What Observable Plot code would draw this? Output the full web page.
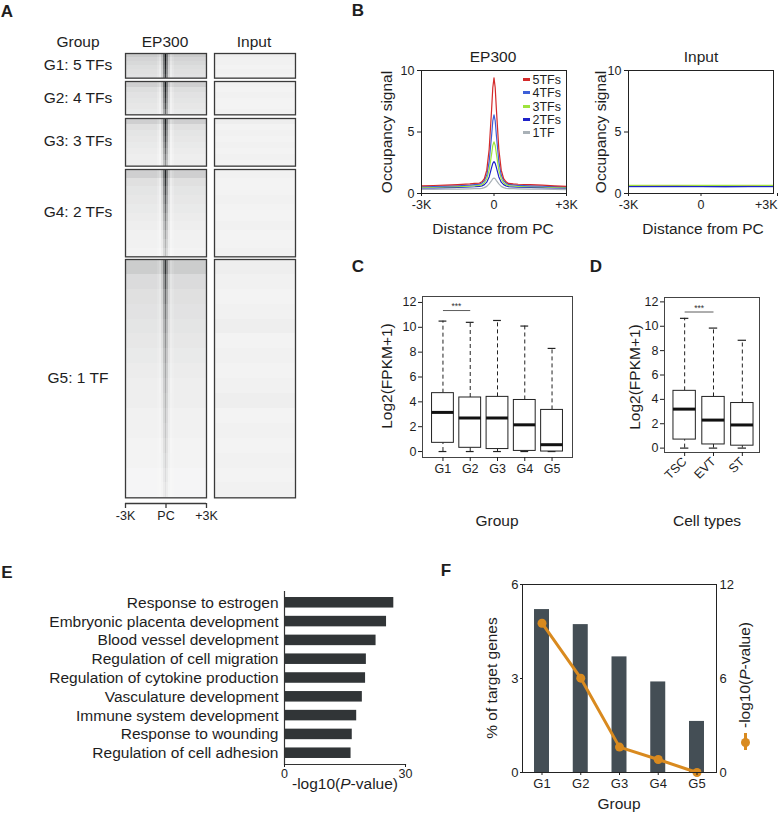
<!DOCTYPE html>
<html><head><meta charset="utf-8">
<script src="https://cdn.jsdelivr.net/npm/d3@7"></script>
<script src="https://cdn.jsdelivr.net/npm/@observablehq/plot@0.6"></script>
<style>
html,body{margin:0;padding:0;background:#fff;overflow:hidden}
#root{position:relative;width:781px;height:815px;font-family:"Liberation Sans",Arial,Helvetica,sans-serif;color:#1e1e1e}
#root svg{position:absolute;overflow:visible;max-width:none}
.t{position:absolute;white-space:nowrap;line-height:1;transform-origin:center center}
</style></head>
<body><div id="root"></div>
<script>
// ---------------- DATA ----------------
// Panel A: heatmap
const heatGroups = ["G1: 5 TFs", "G2: 4 TFs", "G3: 3 TFs", "G4: 2 TFs", "G5: 1 TF"];
const heatRegionCounts = [740, 1000, 1430, 2620, 7150];
const heatColShape = [0,0,0,0,0,0,0,0,0,0,0,0,0,0,0,0,-0.03,-0.07,0.08,0.5,1,0.45,0.05,-0.07,-0.03,0,0,0,0,0,0,0,0,0,0,0,0,0,0,0,0];
const ep300Stripe = [
  [1.0,0.98,0.95,0.92,0.88,0.82],
  [0.97,0.93,0.88,0.82,0.74,0.62],
  [0.95,0.9,0.84,0.78,0.7,0.62,0.54,0.46],
  [0.92,0.85,0.76,0.68,0.6,0.52,0.45,0.38,0.32,0.27],
  [0.85,0.72,0.62,0.55,0.5,0.45,0.4,0.36,0.33,0.3,0.27,0.24,0.21,0.18,0.15,0.12]
];
const ep300Bg = [
  [0.22,0.18,0.16,0.14,0.13,0.12],
  [0.2,0.14,0.12,0.11,0.1,0.09],
  [0.2,0.13,0.11,0.1,0.09,0.08,0.07,0.07],
  [0.2,0.13,0.11,0.1,0.09,0.08,0.07,0.06,0.06,0.05],
  [0.21,0.15,0.13,0.12,0.11,0.1,0.09,0.08,0.07,0.07,0.06,0.06,0.05,0.05,0.04,0.04]
];
const inputBg = [
  [0.07,0.06,0.06,0.05,0.06,0.05],
  [0.06,0.05,0.06,0.05,0.05,0.06],
  [0.07,0.05,0.06,0.05,0.06,0.05,0.06,0.05],
  [0.06,0.05,0.05,0.06,0.05,0.05,0.06,0.05,0.05,0.06],
  [0.07,0.06,0.05,0.06,0.07,0.05,0.06,0.05,0.06,0.07,0.05,0.06,0.05,0.06,0.05,0.06]
];
const heatTicks = [-3000, 0, 3000];
const heatTickLabels = ["-3K", "PC", "+3K"];

// Panel B: profiles
const profilePos = [-3000,-2500,-2000,-1500,-1000,-800,-600,-500,-400,-300,-200,-100,-50,0,50,100,200,300,400,500,600,800,1000,1500,2000,2500,3000];
const profileNames = ["5TFs", "4TFs", "3TFs", "2TFs", "1TF"];
const ep300_5TFs = [0.62,0.65,0.68,0.72,0.78,0.82,0.85,0.95,1.2,1.9,3.6,6.8,8.6,9.4,8.6,6.8,3.6,1.9,1.2,0.95,0.82,0.78,0.75,0.72,0.68,0.62,0.58];
const ep300_4TFs = [0.55,0.57,0.6,0.63,0.68,0.72,0.76,0.85,1.05,1.5,2.6,4.7,5.9,6.4,5.9,4.7,2.6,1.5,1.05,0.85,0.74,0.7,0.66,0.62,0.6,0.56,0.53];
const ep300_3TFs = [0.5,0.52,0.54,0.56,0.6,0.63,0.66,0.72,0.88,1.2,1.9,3.2,3.9,4.2,3.9,3.2,1.9,1.2,0.88,0.72,0.64,0.61,0.58,0.55,0.53,0.5,0.48];
const ep300_2TFs = [0.45,0.46,0.48,0.5,0.53,0.55,0.58,0.62,0.72,0.92,1.35,2.1,2.45,2.6,2.45,2.1,1.35,0.92,0.72,0.62,0.56,0.54,0.52,0.5,0.48,0.45,0.43];
const ep300_1TF  = [0.33,0.34,0.35,0.36,0.38,0.39,0.4,0.42,0.48,0.58,0.78,1.05,1.2,1.25,1.2,1.05,0.78,0.58,0.48,0.42,0.4,0.39,0.38,0.36,0.35,0.34,0.32];
const inputPos = [-3000,-2000,-1000,0,1000,2000,3000];
const input_5TFs = [0.6,0.6,0.61,0.6,0.59,0.6,0.6];
const input_4TFs = [0.55,0.56,0.56,0.55,0.55,0.56,0.55];
const input_3TFs = [0.66,0.67,0.67,0.66,0.66,0.67,0.66];
const input_2TFs = [0.57,0.57,0.58,0.57,0.56,0.57,0.57];
const input_1TF  = [0.6,0.61,0.6,0.6,0.6,0.6,0.6];
const profileTicks = [-3000, 0, 3000];
const profileTickLabels = ["-3K", "0", "+3K"];

// Panel C: boxplots by group
const boxGroups = ["G1", "G2", "G3", "G4", "G5"];
const cLow  = [0, 0, 0, 0, 0];
const cQ1   = [0.7, 0.3, 0.2, 0.05, 0];
const cMed  = [3.15, 2.7, 2.7, 2.15, 0.55];
const cQ3   = [4.7, 4.35, 4.4, 4.15, 3.35];
const cHigh = [10.5, 10.4, 10.55, 10.1, 8.3];
const cSig = {a: "G1", b: "G2", y: 11.35, label: "***"};

// Panel D: boxplots by cell type
const cellTypes = ["TSC", "EVT", "ST"];
const dLow  = [0, 0, 0];
const dQ1   = [0.7, 0.3, 0.2];
const dMed  = [3.2, 2.3, 1.9];
const dQ3   = [4.7, 4.2, 3.7];
const dHigh = [10.65, 9.85, 8.85];
const dSig = {a: "TSC", b: "EVT", y: 11.17, label: "***"};

// Panel E: GO terms
const goTerms = ["Response to estrogen","Embryonic placenta development","Blood vessel development","Regulation of cell migration","Regulation of cytokine production","Vasculature development","Immune system development","Response to wounding","Regulation of cell adhesion"];
const goLogP = [27.1, 25.3, 22.7, 20.3, 20.1, 19.3, 17.9, 16.8, 16.5];

// Panel F: target genes
const fGroups = ["G1", "G2", "G3", "G4", "G5"];
const fPct = [5.2, 4.72, 3.69, 2.89, 1.63];
const fLogP = [9.53, 6.02, 1.62, 0.83, 0];

// ---------------- HELPERS ----------------
const FONT = '"Liberation Sans", Arial, Helvetica, sans-serif';
const INK = "#1e1e1e";
const root = document.getElementById("root");
const baseStyle = {fontFamily: FONT, fontSize: "12.5px", color: INK, background: "transparent", overflow: "visible"};
function put(node, left, top) {
  node.style.position = "absolute";
  node.style.left = left + "px";
  node.style.top = top + "px";
  root.appendChild(node);
  return node;
}
function label(str, x, y, {size = 15.5, weight = "normal", rotate = 0, anchor = "middle", html = false} = {}) {
  const d = document.createElement("div");
  d.className = "t";
  if (html) d.innerHTML = str; else d.textContent = str;
  d.style.left = x + "px";
  d.style.top = y + "px";
  d.style.fontSize = size + "px";
  d.style.fontWeight = weight;
  const tx = anchor === "middle" ? "-50%" : anchor === "end" ? "-100%" : "0";
  d.style.transform = `translate(${tx},-50%) rotate(${rotate}deg)`;
  root.appendChild(d);
  return d;
}

// ---------------- PANEL LETTERS ----------------
label("A", 7, 11, {size: 17, weight: "bold"});
label("B", 358, 10, {size: 17, weight: "bold"});
label("C", 358, 266, {size: 17, weight: "bold"});
label("D", 596, 266, {size: 17, weight: "bold"});
label("E", 7, 572, {size: 17, weight: "bold"});
label("F", 446, 570, {size: 17, weight: "bold"});

// ---------------- PANEL A ----------------
label("Group", 78, 42);
label("EP300", 165, 42);
label("Input", 254, 42);
{
  const pxPerRegion = 1 / 30, gap = 3.3;
  let top = 53;
  heatGroups.forEach((g, i) => {
    const h = heatRegionCounts[i] * pxPerRegion;
    const track = (stripe, bg, left) => {
      const cells = [];
      bg.forEach((b, r) => heatColShape.forEach((s, c) => {
        cells.push({r, c, v: Math.max(0, Math.min(1, b + (stripe[r] - b) * s))});
      }));
      const p = Plot.plot({
        width: 83, height: h + 2, margin: 1,
        x: {type: "band", axis: null, padding: 0, round: false},
        y: {type: "band", axis: null, padding: 0, round: false},
        color: {type: "linear", domain: [0, 1], range: ["#ffffff", "#0e1113"]},
        style: baseStyle,
        marks: [
          Plot.cell(cells, {x: "c", y: "r", fill: "v", shapeRendering: "crispEdges"}),
          Plot.frame({stroke: "#3a3a3a", strokeWidth: 1.3})
        ]
      });
      put(p, left - 1, top - 1);
    };
    track(ep300Stripe[i], ep300Bg[i], 125);
    track(inputBg[i], inputBg[i], 214);
    label(g, 78, top + h / 2);
    top += h + gap;
  });
  const ax = Plot.plot({
    width: 83, height: 30, marginLeft: 1, marginRight: 1, marginTop: 5, marginBottom: 24,
    x: {domain: [-3000, 3000], label: null},
    y: {domain: [0, 1], axis: null},
    style: baseStyle,
    marks: [
      Plot.ruleY([0], {stroke: "#3a3a3a", strokeWidth: 1.3}),
      Plot.axisX({ticks: heatTicks, tickFormat: d => heatTickLabels[heatTicks.indexOf(d)], tickSize: 5, tickPadding: 3, fontSize: 12.5, label: null, stroke: "#3a3a3a", strokeWidth: 1.3})
    ]
  });
  put(ax, 124, 497);
}

// ---------------- PANEL B ----------------
const profileColors = ["#d42a2a", "#3d5fd8", "#9ee33c", "#1f22c8", "#a9b1b7"];
function profilePlot(pos, seriesArrays, order, left, frameRight, endAnchorLast) {
  const data = [];
  order.forEach(k => pos.forEach((x, i) => data.push({x, y: seriesArrays[k][i], s: profileNames[k]})));
  const width = frameRight - left + 12;
  const fmt = d => profileTickLabels[profileTicks.indexOf(d)];
  const axisOpts = {tickSize: 3, tickPadding: 4, fontSize: 12.5, label: null, tickFormat: fmt};
  const xAxes = endAnchorLast
    ? [Plot.axisX({...axisOpts, ticks: profileTicks.slice(0, -1)}),
       Plot.axisX({...axisOpts, ticks: profileTicks.slice(-1), textAnchor: "end", dx: 4})]
    : [Plot.axisX({...axisOpts, ticks: profileTicks})];
  return Plot.plot({
    width, height: 175, marginLeft: 41, marginRight: 12, marginTop: 30, marginBottom: 22,
    x: {domain: [-3000, 3000], label: null},
    y: {domain: [0, 10], label: null},
    color: {domain: profileNames, range: profileColors},
    style: baseStyle,
    marks: [
      Plot.line(data, {x: "x", y: "y", z: "s", stroke: "s", strokeWidth: 1.2}),
      Plot.frame({stroke: "#222", strokeWidth: 1}),
      ...xAxes,
      Plot.axisY({ticks: [0, 5, 10], tickSize: 4, tickPadding: 3, fontSize: 12.5, label: null})
    ]
  });
}
put(profilePlot(profilePos, [ep300_5TFs, ep300_4TFs, ep300_3TFs, ep300_2TFs, ep300_1TF], [4, 3, 2, 1, 0], 380, 566, false), 380, 40);
put(profilePlot(inputPos, [input_5TFs, input_4TFs, input_3TFs, input_2TFs, input_1TF], [4, 0, 1, 3, 2], 587, 773, true), 587, 40);
label("EP300", 493, 57);
label("Input", 701, 57);
label("Occupancy signal", 387, 132, {rotate: -90});
label("Occupancy signal", 601, 132, {rotate: -90});
label("Distance from PC", 493, 229);
label("Distance from PC", 703, 229);
profileNames.forEach((n, i) => {
  const y = 79.3 + i * 13.4;
  const sw = document.createElement("div");
  sw.style.cssText = `position:absolute;left:522.5px;top:${y - 1.5}px;width:7px;height:3px;background:${profileColors[i]}`;
  root.appendChild(sw);
  label(n, 532.5, y + 0.5, {size: 12.5, anchor: "start"});
});

// ---------------- PANELS C & D ----------------
function boxPlot(cats, lo, q1, med, q3, hi, sig, opts) {
  const rows = cats.map((g, i) => ({g, lo: lo[i], q1: q1[i], med: med[i], q3: q3[i], hi: hi[i]}));
  return Plot.plot({
    width: opts.width, height: opts.height,
    marginLeft: opts.marginLeft, marginRight: opts.marginRight, marginTop: opts.marginTop, marginBottom: opts.marginBottom,
    x: {type: "band", domain: cats, paddingInner: opts.pi, paddingOuter: opts.po, align: opts.align, round: false, label: null},
    y: {domain: opts.ydomain, label: null},
    style: baseStyle,
    marks: [
      Plot.ruleX(rows, {x: "g", y1: "q3", y2: "hi", stroke: "#222", strokeDasharray: "4,3", strokeWidth: 1}),
      Plot.ruleX(rows, {x: "g", y1: "lo", y2: "q1", stroke: "#222", strokeDasharray: "4,3", strokeWidth: 1}),
      Plot.tickY(rows, {x: "g", y: "hi", stroke: "#222", strokeWidth: 1.2, inset: opts.capInset}),
      Plot.tickY(rows, {x: "g", y: "lo", stroke: "#222", strokeWidth: 1.2, inset: opts.capInset}),
      Plot.barY(rows, {x: "g", y1: "q1", y2: "q3", fill: "white", stroke: "#222", strokeWidth: 1}),
      Plot.tickY(rows, {x: "g", y: "med", stroke: "#111", strokeWidth: 3}),
      Plot.link([sig], {x1: "a", x2: "b", y1: "y", y2: "y", stroke: "#333", strokeWidth: 0.8}),
      Plot.text([sig], {x: "a", y: "y", text: "label", dx: opts.sigDx, dy: -4, fontSize: 8.5, fill: "#333"}),
      Plot.frame({stroke: "#444", strokeWidth: 1}),
      Plot.axisY({ticks: [0, 2, 4, 6, 8, 10, 12], tickSize: 4, tickPadding: 2, fontSize: 12.5, label: null}),
      Plot.axisX({tickSize: 4, tickPadding: 3, fontSize: 12.5, label: null, tickRotate: opts.rotate || 0})
    ]
  });
}
put(boxPlot(boxGroups, cLow, cQ1, cMed, cQ3, cHigh, cSig, {
  width: 202, height: 207, marginLeft: 42, marginRight: 10, marginTop: 16, marginBottom: 30,
  pi: 0.2, po: 0.35, align: 0.5, ydomain: [-0.48, 12.48], capInset: 7, sigDx: 13.5
}), 380, 280);
put(boxPlot(cellTypes, dLow, dQ1, dMed, dQ3, dHigh, dSig, {
  width: 169, height: 218, marginLeft: 64, marginRight: 10, marginTop: 17, marginBottom: 46,
  pi: 0.224, po: 0.259, align: 0.6, ydomain: [-0.36, 12.36], capInset: 7, sigDx: 14.5, rotate: -45
}), 600, 280);
label("Log2(FPKM+1)", 387, 376, {rotate: -90});
label("Log2(FPKM+1)", 635, 377, {rotate: -90});
label("Group", 497, 521);
label("Cell types", 707, 521);

// ---------------- PANEL E ----------------
{
  const rows = goTerms.map((t, i) => ({t, v: goLogP[i]}));
  const p = Plot.plot({
    width: 420, height: 224, marginLeft: 284, marginRight: 15, marginTop: 11, marginBottom: 40,
    x: {domain: [0, 30], label: null},
    y: {type: "band", domain: goTerms, paddingInner: 0.44, paddingOuter: 0.32, round: false, label: null},
    style: baseStyle,
    marks: [
      Plot.barX(rows, {y: "t", x: "v", fill: "#313537"}),
      Plot.ruleX([0], {stroke: "#333", strokeWidth: 1.2}),
      Plot.frame({anchor: "bottom", stroke: "#333", strokeWidth: 1.2}),
      Plot.axisX({ticks: [0, 30], tickSize: 3, tickPadding: 2, fontSize: 12.5, label: null}),
      Plot.axisY({tickSize: 0, tickPadding: 6, fontSize: 15.5, label: null, fill: INK})
    ]
  });
  put(p, 0, 580);
  label("-log10(<i>P</i>-value)", 345, 784, {html: true});
}

// ---------------- PANEL F ----------------
{
  const orange = "#d98a1f";
  const rows = fGroups.map((g, i) => ({g, pct: fPct[i], p: fLogP[i]}));
  const p = Plot.plot({
    width: 306, height: 230, marginLeft: 82, marginRight: 30, marginTop: 14, marginBottom: 28,
    x: {type: "band", domain: fGroups, paddingInner: 0.613, paddingOuter: 0.31, round: false, label: null},
    y: {domain: [0, 6], label: null},
    style: baseStyle,
    marks: [
      Plot.barY(rows, {x: "g", y: "pct", fill: "#444e55"}),
      Plot.line(rows, {x: "g", y: d => d.p / 2, stroke: orange, strokeWidth: 3}),
      Plot.dot(rows, {x: "g", y: d => d.p / 2, r: 4.5, fill: orange}),
      Plot.frame({stroke: "#222", strokeWidth: 1}),
      Plot.axisY({anchor: "left", ticks: [0, 3, 6], tickFormat: d => String(d), tickSize: 2, tickPadding: 2, fontSize: 13, label: null}),
      Plot.axisY({anchor: "right", ticks: [0, 3, 6], tickFormat: d => String(d * 2), tickSize: 0, tickPadding: 3, fontSize: 13, label: null}),
      Plot.axisX({tickSize: 3, tickPadding: 3, fontSize: 13, label: null})
    ]
  });
  put(p, 440, 570);
  label("% of target genes", 492, 678, {rotate: -90});
  label("-log10(<i>P</i>-value)", 745, 675, {rotate: -90, html: true});
  label("Group", 619, 804);
  const mk = document.createElement("div");
  mk.style.cssText = `position:absolute;left:743.5px;top:733px;width:3px;height:17px;background:${orange}`;
  root.appendChild(mk);
  const dot = document.createElement("div");
  dot.style.cssText = `position:absolute;left:740.5px;top:737.5px;width:9px;height:9px;border-radius:50%;background:${orange}`;
  root.appendChild(dot);
}
</script>
</body></html>
